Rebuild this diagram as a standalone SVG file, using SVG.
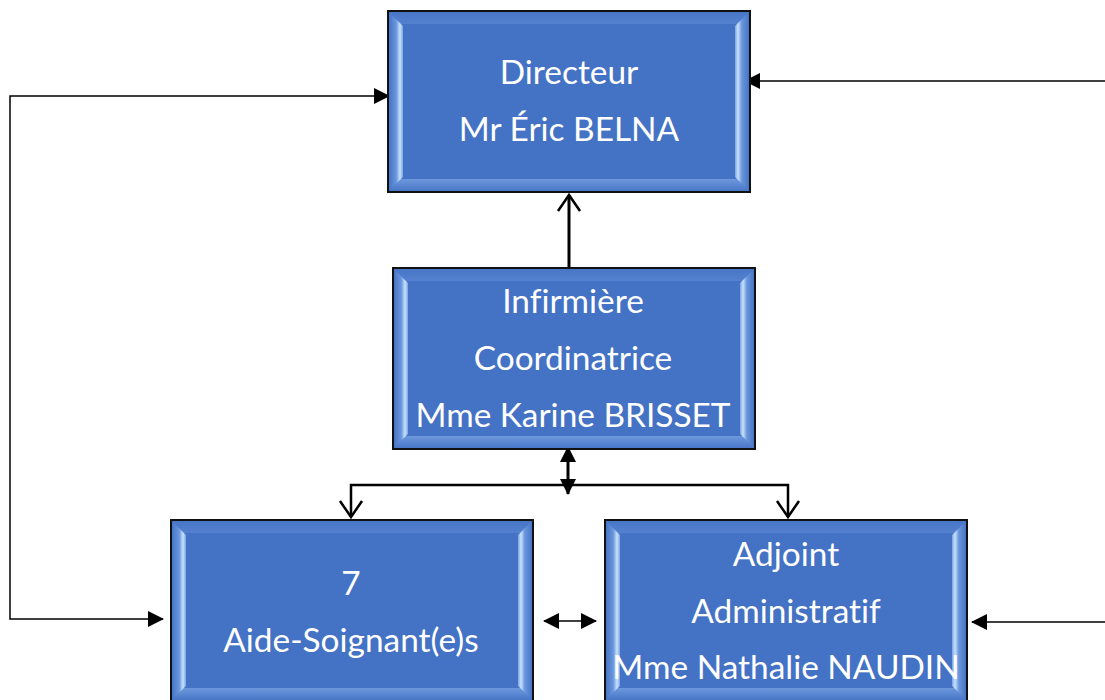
<svg xmlns="http://www.w3.org/2000/svg" width="1105" height="700" viewBox="0 0 1105 700">
  <style>
    .lbl { font-family: Lato, "Liberation Sans", sans-serif; font-size: 33.4px; fill: #ffffff; text-anchor: middle; font-variant-ligatures: none; font-feature-settings: "liga" 0; }
    .thick { fill: none; stroke: #000; stroke-width: 3; }
    .mid { fill: none; stroke: #000; stroke-width: 2.5; }
    .thin { fill: none; stroke: #000; stroke-width: 1.5; }
  </style>
  <defs>
    <linearGradient id="gL" x1="0" y1="0" x2="1" y2="0">
      <stop offset="0" stop-color="#4170c2"/>
      <stop offset="0.55" stop-color="#6a96dd"/>
      <stop offset="0.8" stop-color="#c9e2fb"/>
      <stop offset="1" stop-color="#7aa4e4"/>
    </linearGradient>
    <linearGradient id="gR" x1="1" y1="0" x2="0" y2="0">
      <stop offset="0" stop-color="#4170c2"/>
      <stop offset="0.55" stop-color="#6a96dd"/>
      <stop offset="0.8" stop-color="#c9e2fb"/>
      <stop offset="1" stop-color="#7aa4e4"/>
    </linearGradient>
    <linearGradient id="gT" x1="0" y1="0" x2="0" y2="1">
      <stop offset="0" stop-color="#4775c6"/>
      <stop offset="1" stop-color="#5482d0"/>
    </linearGradient>
    <linearGradient id="gB" x1="0" y1="0" x2="0" y2="1">
      <stop offset="0" stop-color="#6d98dd"/>
      <stop offset="1" stop-color="#4674c6"/>
    </linearGradient>
    <g id="box">
      <rect x="0" y="0" width="362" height="181" fill="#4472c4"/>
      <polygon points="0,0 362,0 349,13 13,13" fill="url(#gT)"/>
      <polygon points="0,181 13,168 349,168 362,181" fill="url(#gB)"/>
      <polygon points="0,0 15,15 15,166 0,181" fill="url(#gL)"/>
      <polygon points="362,0 347,15 347,166 362,181" fill="url(#gR)"/>
      <rect x="0" y="0" width="362" height="181" fill="none" stroke="#111111" stroke-width="2"/>
    </g>
    <marker id="tri" markerUnits="userSpaceOnUse" markerWidth="16" markerHeight="16" viewBox="0 0 16 16" refX="15" refY="8" orient="auto-start-reverse">
      <path d="M0,0 L16,8 L0,16 Z" fill="#000"/>
    </marker>
    <marker id="vee" markerUnits="userSpaceOnUse" markerWidth="26" markerHeight="26" viewBox="0 0 26 26" refX="23" refY="13" orient="auto-start-reverse">
      <path d="M7,2 L23,13 L7,24" fill="none" stroke="#000" stroke-width="2.5"/>
    </marker>
  </defs>

  <g id="connectors">
    <path class="thick" d="M569,268 L569,195" marker-end="url(#vee)"/>
    <path class="thick" d="M568,447 L568,494" marker-start="url(#tri)" marker-end="url(#tri)"/>
    <path class="mid" d="M569,485 L351,485 L351,517" marker-end="url(#vee)"/>
    <path class="mid" d="M569,485 L788,485 L788,517" marker-end="url(#vee)"/>
    <path class="thin" d="M163,619 L10,619 L10,96 L389,96" marker-start="url(#tri)" marker-end="url(#tri)"/>
    <path class="thin" d="M1105,81 L745,81" marker-end="url(#tri)"/>
    <path class="thin" d="M1105,622 L972,622" marker-end="url(#tri)"/>
    <path class="thin" d="M544,621 L596,621" marker-start="url(#tri)" marker-end="url(#tri)"/>
  </g>

  <g id="node-directeur">
    <use href="#box" x="388" y="11"/>
    <text class="lbl" x="569" y="84">Directeur</text>
    <text class="lbl" x="569" y="141">Mr Éric BELNA</text>
  </g>
  <g id="node-infirmiere">
    <use href="#box" x="393" y="268"/>
    <text class="lbl" x="573" y="313">Infirmière</text>
    <text class="lbl" x="573" y="370">Coordinatrice</text>
    <text class="lbl" x="573" y="427">Mme Karine BRISSET</text>
  </g>
  <g id="node-aides">
    <use href="#box" x="171" y="520"/>
    <text class="lbl" x="351" y="595">7</text>
    <text class="lbl" x="351" y="652">Aide-Soignant(e)s</text>
  </g>
  <g id="node-adjoint">
    <use href="#box" x="605" y="520"/>
    <text class="lbl" x="786" y="566">Adjoint</text>
    <text class="lbl" x="786" y="623">Administratif</text>
    <text class="lbl" x="786" y="679">Mme Nathalie NAUDIN</text>
  </g>
</svg>
